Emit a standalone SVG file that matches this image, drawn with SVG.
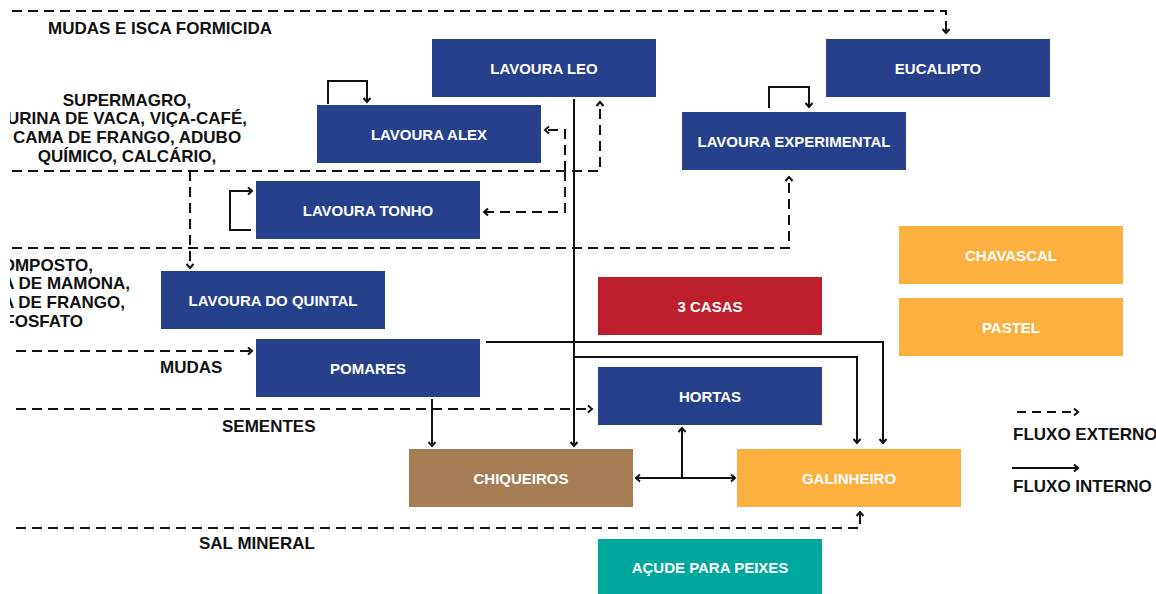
<svg xmlns="http://www.w3.org/2000/svg" width="1156" height="594" viewBox="0 0 1156 594">
<style>
.box{stroke:none}
.blue{fill:#27408B}.red{fill:#BE1E2D}.orange{fill:#FBB040}.brown{fill:#A67C52}.teal{fill:#00A79D}
.bl{font-family:"Liberation Sans",Arial,sans-serif;font-weight:bold;font-size:15px;fill:#fff;text-anchor:middle}
.lb{font-family:"Liberation Sans",Arial,sans-serif;font-weight:bold;font-size:17px;fill:#111}
.ext{fill:none;stroke:#111;stroke-width:2;stroke-dasharray:10 6;marker-end:url(#arr)}
.int{fill:none;stroke:#111;stroke-width:2;marker-end:url(#arr)}
</style>
<defs>
<marker id="arr" viewBox="-6 -5 8 10" markerWidth="8" markerHeight="10" refX="0" refY="0" orient="auto-start-reverse" markerUnits="userSpaceOnUse">
<path d="M-4,-3.5 L0,0 L-4,3.5" fill="none" stroke="#111" stroke-width="2"/>
</marker>
<clipPath id="lc"><rect x="10" y="0" width="400" height="594"/></clipPath>
</defs>
<rect width="1156" height="594" fill="#fff"/>

<g id="connectors">
<path class="ext" d="M12,11 H946 V33"/>
<path class="ext" d="M12,171 H600 V102"/>
<path class="ext" d="M190,171 V268"/>
<path class="ext" d="M565,171 V130 H545"/>
<path class="ext" d="M565,171 V212 H484"/>
<path class="ext" d="M12,248 H789 V177"/>
<path class="ext" d="M16,351 H252"/>
<path class="ext" d="M16,409 H592"/>
<path class="ext" d="M16,528 H860 V512"/>
<path class="int" d="M328,104 V81 H367 V102"/>
<path class="int" d="M769,108 V87 H809 V107"/>
<path class="int" d="M251,230 H230 V191 H252"/>
<path class="int" d="M574,99 V446"/>
<path class="int" d="M574,357 H857 V443"/>
<path class="int" d="M486,342 H883 V443"/>
<path class="int" d="M432,399 V446"/>
<path class="int" d="M636,478 H735" style="marker-start:url(#arr)"/>
<path class="int" d="M682,478 V428"/>
</g>

<g id="node-leo"><rect class="box blue" x="432" y="39" width="224" height="58"/><text class="bl" x="544" y="73.5">LAVOURA LEO</text></g>
<g id="node-eucalipto"><rect class="box blue" x="826" y="39" width="224" height="58"/><text class="bl" x="938" y="73.5">EUCALIPTO</text></g>
<g id="node-alex"><rect class="box blue" x="317" y="105" width="224" height="58"/><text class="bl" x="429" y="139.5">LAVOURA ALEX</text></g>
<g id="node-experimental"><rect class="box blue" x="682" y="112" width="224" height="58"/><text class="bl" x="794" y="146.5">LAVOURA EXPERIMENTAL</text></g>
<g id="node-tonho"><rect class="box blue" x="256" y="181" width="224" height="58"/><text class="bl" x="368" y="215.5">LAVOURA TONHO</text></g>
<g id="node-quintal"><rect class="box blue" x="161" y="271" width="224" height="58"/><text class="bl" x="273" y="305.5">LAVOURA DO QUINTAL</text></g>
<g id="node-pomares"><rect class="box blue" x="256" y="339" width="224" height="58"/><text class="bl" x="368" y="373.5">POMARES</text></g>
<g id="node-casas"><rect class="box red" x="598" y="277" width="224" height="58"/><text class="bl" x="710" y="311.5">3 CASAS</text></g>
<g id="node-chavascal"><rect class="box orange" x="899" y="226" width="224" height="58"/><text class="bl" x="1011" y="260.5">CHAVASCAL</text></g>
<g id="node-pastel"><rect class="box orange" x="899" y="298" width="224" height="58"/><text class="bl" x="1011" y="332.5">PASTEL</text></g>
<g id="node-hortas"><rect class="box blue" x="598" y="367" width="224" height="58"/><text class="bl" x="710" y="401.5">HORTAS</text></g>
<g id="node-chiqueiros"><rect class="box brown" x="409" y="449" width="224" height="58"/><text class="bl" x="521" y="483.5">CHIQUEIROS</text></g>
<g id="node-galinheiro"><rect class="box orange" x="737" y="449" width="224" height="58"/><text class="bl" x="849" y="483.5">GALINHEIRO</text></g>
<g id="node-acude"><rect class="box teal" x="598" y="539" width="224" height="58"/><text class="bl" x="710" y="572.5">AÇUDE PARA PEIXES</text></g>

<g id="labels">
<text class="lb" x="48" y="34">MUDAS E ISCA FORMICIDA</text>
<g clip-path="url(#lc)" text-anchor="middle">
<text class="lb" x="127" y="106">SUPERMAGRO,</text>
<text class="lb" x="127" y="124">URINA DE VACA, VIÇA-CAFÉ,</text>
<text class="lb" x="127" y="143">CAMA DE FRANGO, ADUBO</text>
<text class="lb" x="127" y="162">QUÍMICO, CALCÁRIO,</text>
</g>
<g clip-path="url(#lc)" text-anchor="end">
<text class="lb" x="93" y="270.5">COMPOSTO,</text>
<text class="lb" x="130" y="289">A DE MAMONA,</text>
<text class="lb" x="125" y="308">A DE FRANGO,</text>
<text class="lb" x="83" y="327">FOSFATO</text>
</g>
<text class="lb" x="160" y="373">MUDAS</text>
<text class="lb" x="222" y="432">SEMENTES</text>
<text class="lb" x="199" y="549">SAL MINERAL</text>
</g>

<g id="legend">
<path class="ext" d="M1017,412 H1078" style="stroke-dasharray:9 6"/>
<text class="lb" x="1013" y="440">FLUXO EXTERNO</text>
<path class="int" d="M1012,468 H1078"/>
<text class="lb" x="1013" y="492">FLUXO INTERNO</text>
</g>
</svg>
